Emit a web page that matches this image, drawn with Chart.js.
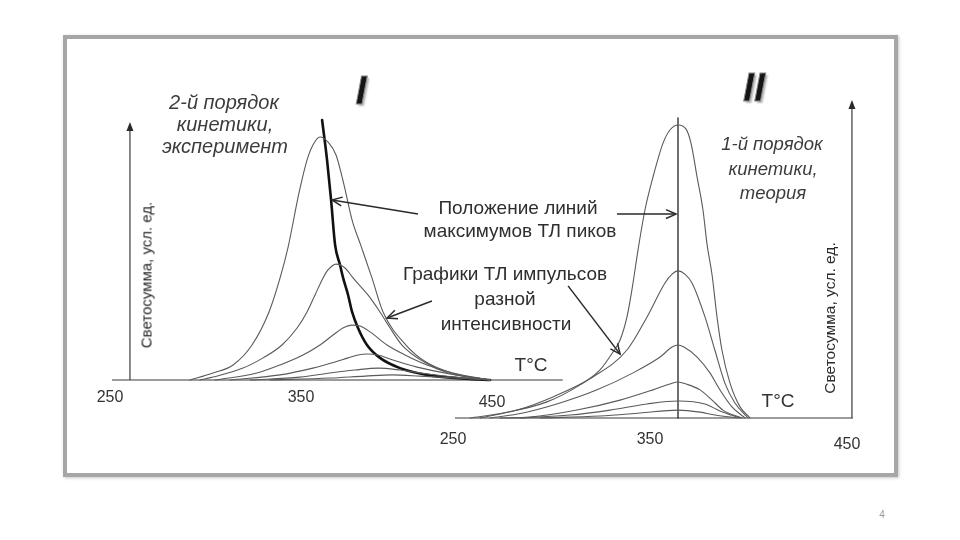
<!DOCTYPE html>
<html><head><meta charset="utf-8">
<script src="https://cdn.jsdelivr.net/npm/chart.js@4.4.1/dist/chart.umd.min.js"></script>
<style>
html,body{margin:0;padding:0;background:#fff;}
#wrap{position:relative;width:960px;height:540px;overflow:hidden;font-family:'Liberation Sans',Arial,sans-serif;}
#frame{position:absolute;left:63px;top:35px;width:827px;height:434px;border:4px solid #a6a6a6;box-shadow:1px 1px 3px #c8c8c8;}
canvas{position:absolute;left:0;top:0;}
.t{position:absolute;transform:translate(-50%,-50%);white-space:nowrap;color:#333;line-height:1;}
.it{font-style:italic;color:#3c3c3c;}
.ann{font-size:19px;color:#2e2e2e;}
.ylab{font-size:15px;color:#2a2a2a;transform:translate(-50%,-50%) rotate(-90deg);}
.tc{font-size:19px;color:#333;}
.rn{font-family:'Liberation Sans',Arial,sans-serif;font-weight:bold;font-style:italic;font-size:40px;color:#151515;-webkit-text-stroke:1px #8a8a8a;text-shadow:2px 2px 2px #b8b8b8;}
</style></head>
<body><div id="wrap">
<div id="frame"></div>
<canvas id="c" width="960" height="540"></canvas>
<div class="t rn" style="left:361px;top:90px;">I</div>
<div class="t rn" style="left:754px;top:87px;">II</div>
<div class="t it" style="left:224px;top:102px;font-size:20px;">2-й порядок</div>
<div class="t it" style="left:225px;top:124px;font-size:20px;">кинетики,</div>
<div class="t it" style="left:225px;top:146px;font-size:20px;">эксперимент</div>
<div class="t it" style="left:772px;top:144px;font-size:18.5px;">1-й порядок</div>
<div class="t it" style="left:773px;top:169px;font-size:18.5px;">кинетики,</div>
<div class="t it" style="left:773px;top:193px;font-size:18.5px;">теория</div>
<div class="t ann" style="left:518px;top:207px;">Положение линий</div>
<div class="t ann" style="left:520px;top:230px;">максимумов ТЛ пиков</div>
<div class="t ann" style="left:505px;top:273px;">Графики ТЛ импульсов</div>
<div class="t ann" style="left:505px;top:298px;">разной</div>
<div class="t ann" style="left:506px;top:323px;">интенсивности</div>
<div class="t ylab" style="left:146px;top:275px;">Светосумма, усл. ед.</div>
<div class="t ylab" style="left:830px;top:318px;font-size:15.5px;">Светосумма, усл. ед.</div>
<div class="t tc" style="left:531px;top:364px;">T°C</div>
<div class="t tc" style="left:778px;top:400px;">T°C</div>
<div class="t" style="left:882px;top:515px;font-size:10px;color:#999;">4</div>
</div>
<script>
// ---- Panel I (2nd order kinetics, experiment): temperature (°C) and intensity (rel. units)
const curveI1_T = [290.8,302.9,313.4,323.3,332.2,338.0,342.2,347.9,352.1,355.2,358.9,363.1,367.3,371.5,375.7,380.4,386.1,391.9,403.9,414.4,428.0,447.9];
const curveI1_V = [0,2.9,6.2,14.4,28.0,42.0,54.7,77.0,90.5,96.7,100,97.9,92.6,80.2,65.8,55.1,42.0,28.0,14.4,7.4,2.9,0];
const curveI2_T = [296.1,302.9,318.6,329.1,339.0,346.9,352.1,356.3,360.5,363.1,367.3,372.0,376.2,384.0,390.3,395.6,401.8,413.4,425.9,447.9];
const curveI2_V = [0,1.2,4.9,9.1,14.4,21.4,28.0,35.0,42.0,45.3,47.7,46.1,42.0,35.0,28.0,21.4,14.4,7.4,2.9,0];
const curveI3_T = [303.9,325.9,338.0,350.0,358.9,365.7,370.9,375.7,379.9,385.1,394.0,403.4,414.9,428.5,447.9];
const curveI3_V = [0,2.9,6.2,10.3,14.4,18.5,21.4,22.6,22.2,19.8,14.4,10.3,6.2,2.9,0];
const curveI4_T = [311.8,338.0,355.2,366.8,373.6,378.8,383.5,389.3,397.1,409.7,427.0,447.9];
const curveI4_V = [0,2.1,4.9,7.4,9.1,10.3,10.7,10.3,8.2,5.3,2.5,0];
const curveI5_T = [322.3,348.4,364.1,377.2,389.3,400.8,411.3,429.6,447.9];
const curveI5_V = [0,1.2,2.9,4.1,4.9,4.1,2.9,1.2,0];
const curveI6_T = [332.7,364.1,382.5,396.6,411.3,429.6,447.9];
const curveI6_V = [0,0.8,1.6,2.1,1.6,0.8,0];
const peakLineI_T = [360.0,362.6,364.7,366.8,369.4,371.0,373.6,375.7,378.8,383.5,390.3,400.8,414.9,437.4,447.9];
const peakLineI_V = [107.0,90.5,74.1,55.6,47.3,42.0,35.0,28.0,21.4,14.4,9.1,4.9,2.1,0.4,0];

// ---- Panel II (1st order kinetics, theory)
const curveII1_T = [257.6,274.4,296.7,313.5,323.6,330.2,333.8,337.3,339.8,342.9,346.4,350.5,355.6,359.1,363.2,367.3,369.8,372.9,375.9,378.0,380.5,383.0,385.5,389.6,394.7,399.8];
const curveII1_V = [0,1.7,5.5,11.3,16.4,22.5,26.6,34.5,43.7,57.3,70.9,82.2,93.8,98.3,100,98.6,93.8,82.2,70.9,59.0,48.8,34.5,23.2,11.9,3.8,0];
const curveII2_T = [262.7,281.5,299.7,320.0,337.3,347.5,356.6,360.2,363.2,366.7,370.3,376.9,381.9,387.0,392.1,398.7];
const curveII2_V = [0,2.7,7.2,14.0,23.2,34.5,46.1,49.1,50.2,49.1,46.1,34.5,23.2,11.9,5.1,0];
const curveII3_T = [267.8,284.5,303.3,322.1,340.4,354.1,360.2,363.2,366.2,372.9,379.4,384.5,390.6,397.2];
const curveII3_V = [0,1.7,5.1,9.6,15.4,20.8,24.2,24.9,24.2,20.8,15.4,9.6,3.8,0];
const curveII4_T = [272.8,288.1,311.9,333.8,350.5,359.1,363.2,367.3,374.4,380.5,386.0,395.7];
const curveII4_V = [0,0.3,2.7,6.1,9.6,11.6,12.3,11.6,9.6,6.1,2.7,0];
const curveII5_T = [283.0,308.4,328.7,347.5,363.2,376.9,384.5,394.7];
const curveII5_V = [0,1.0,2.7,4.8,5.8,4.8,2.4,0];
const curveII6_T = [293.1,323.6,343.9,363.2,374.4,382.0,393.7];
const curveII6_V = [0,0.7,1.7,2.7,2.0,1.0,0];
const peakLineII_T = [363.2,363.2];
const peakLineII_V = [0,102.4];

// tick labels
const ticksI = [250,350,450];
const ticksII = [250,350,450];

// ---- layout (not data)
const tickDropI = [18,18,23];
const tickDropII = [22,22,27];
const axisI = {xFrom:250, xTo:486, yAt:259.4, yTop:106.2};
const axisII = {xFrom:250, xTo:452, yAt:451.5, yTop:108.5};
const arrowsI = [{from:[410.2,68.3],to:[365.2,74.1]},{from:[417.5,32.5],to:[394.0,25.5]}];
const arrowsII = [{from:[332.2,69.6],to:[362.2,69.6]},{from:[307.4,45.1],to:[333.8,21.8]}];

function zip(T,V){return T.map((t,i)=>({x:t,y:V[i]}));}
function curve(T,V,panel,opt){
  return Object.assign({data:zip(T,V),xAxisID:'x'+panel,yAxisID:'y'+panel,borderColor:'#5a5a5a',borderWidth:1.1,
    pointRadius:0,fill:false,cubicInterpolationMode:'monotone'},opt||{});
}
const datasets = [
  curve(curveI1_T,curveI1_V,'I'),curve(curveI2_T,curveI2_V,'I'),curve(curveI3_T,curveI3_V,'I'),
  curve(curveI4_T,curveI4_V,'I'),curve(curveI5_T,curveI5_V,'I'),curve(curveI6_T,curveI6_V,'I'),
  curve(peakLineI_T,peakLineI_V,'I',{borderColor:'#111',borderWidth:2.6}),
  curve(curveII1_T,curveII1_V,'II'),curve(curveII2_T,curveII2_V,'II'),curve(curveII3_T,curveII3_V,'II'),
  curve(curveII4_T,curveII4_V,'II'),curve(curveII5_T,curveII5_V,'II'),curve(curveII6_T,curveII6_V,'II'),
  curve(peakLineII_T,peakLineII_V,'II',{borderColor:'#222',borderWidth:1.3,cubicInterpolationMode:'default',tension:0})
];

function seg(ctx,x1,y1,x2,y2){ctx.beginPath();ctx.moveTo(x1,y1);ctx.lineTo(x2,y2);ctx.stroke();}
function openArrow(ctx,x1,y1,x2,y2){
  seg(ctx,x1,y1,x2,y2);
  const a=Math.atan2(y2-y1,x2-x1),L=11,w=0.42;
  ctx.beginPath();
  ctx.moveTo(x2-L*Math.cos(a-w),y2-L*Math.sin(a-w));ctx.lineTo(x2,y2);
  ctx.lineTo(x2-L*Math.cos(a+w),y2-L*Math.sin(a+w));ctx.stroke();
}
function filledHead(ctx,x,y){
  ctx.beginPath();ctx.moveTo(x,y);ctx.lineTo(x-3.5,y+9);ctx.lineTo(x+3.5,y+9);ctx.closePath();ctx.fill();
}
const diagramPlugin = {
  id:'diagram',
  beforeDatasetsDraw(chart){
    const ctx=chart.ctx, s=chart.scales;
    ctx.save();
    ctx.strokeStyle='#3a3a3a';ctx.fillStyle='#2a2a2a';ctx.lineWidth=1.2;
    let y0=s.yI.getPixelForValue(0);
    seg(ctx,s.xI.getPixelForValue(axisI.xFrom),y0,s.xI.getPixelForValue(axisI.xTo),y0);
    let ax=s.xI.getPixelForValue(axisI.yAt), at=s.yI.getPixelForValue(axisI.yTop);
    seg(ctx,ax,y0,ax,at+6); filledHead(ctx,ax,at);
    y0=s.yII.getPixelForValue(0);
    seg(ctx,s.xII.getPixelForValue(axisII.xFrom),y0,s.xII.getPixelForValue(axisII.xTo),y0);
    ax=s.xII.getPixelForValue(axisII.yAt); at=s.yII.getPixelForValue(axisII.yTop);
    seg(ctx,ax,y0,ax,at+6); filledHead(ctx,ax,at);
    ctx.restore();
  },
  afterDatasetsDraw(chart){
    const ctx=chart.ctx, s=chart.scales;
    ctx.save();
    ctx.strokeStyle='#2a2a2a';ctx.lineWidth=1.5;
    arrowsI.forEach(a=>openArrow(ctx,s.xI.getPixelForValue(a.from[0]),s.yI.getPixelForValue(a.from[1]),s.xI.getPixelForValue(a.to[0]),s.yI.getPixelForValue(a.to[1])));
    arrowsII.forEach(a=>openArrow(ctx,s.xII.getPixelForValue(a.from[0]),s.yII.getPixelForValue(a.from[1]),s.xII.getPixelForValue(a.to[0]),s.yII.getPixelForValue(a.to[1])));
    ctx.fillStyle='#333';ctx.font='16px "Liberation Sans", Arial, sans-serif';ctx.textAlign='center';ctx.textBaseline='middle';
    let y0=s.yI.getPixelForValue(0);
    ticksI.forEach((t,i)=>ctx.fillText(String(t),s.xI.getPixelForValue(t)-2,y0+tickDropI[i]));
    y0=s.yII.getPixelForValue(0);
    ticksII.forEach((t,i)=>ctx.fillText(String(t),s.xII.getPixelForValue(t)-2,y0+tickDropII[i]));
    ctx.restore();
  }
};

new Chart(document.getElementById('c'),{
  type:'line',
  data:{datasets},
  options:{
    responsive:false,animation:false,parsing:true,
    layout:{padding:0},
    plugins:{legend:{display:false},tooltip:{enabled:false},title:{display:false}},
    elements:{line:{borderCapStyle:'round',borderJoinStyle:'round'}},
    scales:{
      xI:{type:'linear',display:false,bounds:'data',min:191.36,max:693.98},
      yI:{type:'linear',display:false,bounds:'data',min:-65.84,max:156.38},
      xII:{type:'linear',display:false,bounds:'data',min:19.04,max:506.35},
      yII:{type:'linear',display:false,bounds:'data',min:-41.64,max:142.66}
    }
  },
  plugins:[diagramPlugin]
});
</script>
</body></html>
